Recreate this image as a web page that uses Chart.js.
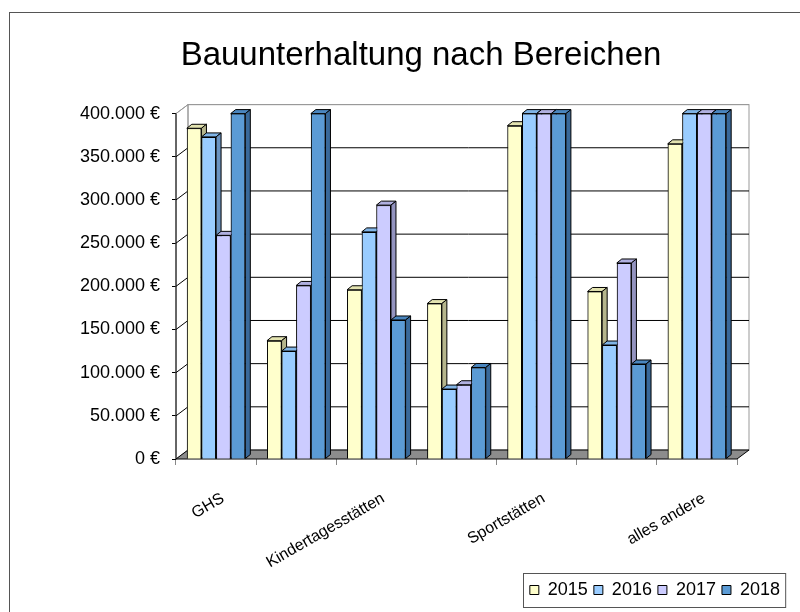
<!DOCTYPE html>
<html>
<head>
<meta charset="utf-8">
<script src="https://cdn.jsdelivr.net/npm/chart.js@4.4.1/dist/chart.umd.min.js"></script>
<style>
  html, body { margin: 0; padding: 0; background: #fff; overflow: hidden; }
  #frame { position: absolute; left: 9px; top: 12px; width: 900px; height: 700px; border-left: 1px solid #555; border-top: 1px solid #555; }
  canvas { position: absolute; left: 0; top: 0; }
</style>
</head>
<body>
<div id="frame"></div>
<canvas id="chart" width="800" height="612"></canvas>
<script>
// only every second category name is printed in the original
const categories = ['GHS', '', 'Kindertagesstätten', '', 'Sportstätten', '', 'alles andere'];
const years = ['2015', '2016', '2017', '2018'];

const values2015 = [383000, 137000, 196000, 180000, 386000, 194000, 365000];
const values2016 = [373000, 125000, 263000, 81000, 400000, 132000, 400000];
const values2017 = [259000, 201000, 294000, 86000, 400000, 227000, 400000];
const values2018 = [400000, 400000, 161000, 106000, 400000, 110000, 400000];

const yMax = 400000;
const yStep = 50000;

const frontColors = ['#FFFFCC', '#99CCFF', '#CCCCFF', '#5B9BD5'];
const topColors = ['#E3E3B0', '#80B4E6', '#B0B0E0', '#4A86BF'];
const sideColors = ['#B5B58C', '#6A93C2', '#9393BF', '#39699A'];

const depth = { wallX: 12, wallY: 9, barX: 5, barY: 4 };
const font = 'Liberation Sans, Arial, sans-serif';

function euro(v) {
    return String(v).replace(/\B(?=(\d{3})+(?!\d))/g, '.') + ' €';
}

// walls, floor and back gridlines of the 3d box
const box3d = {
    id: 'box3d',
    beforeDatasetsDraw(chart) {
        const { ctx, chartArea: a, scales: { y } } = chart;
        const dx = depth.wallX, dy = depth.wallY;
        ctx.save();
        ctx.lineWidth = 1;

        // left wall
        ctx.beginPath();
        ctx.moveTo(a.left, a.top);
        ctx.lineTo(a.left + dx, a.top - dy);
        ctx.lineTo(a.left + dx, a.bottom - dy);
        ctx.lineTo(a.left, a.bottom);
        ctx.closePath();
        ctx.strokeStyle = '#999';
        ctx.stroke();

        // back wall outline
        ctx.strokeRect(a.left + dx, a.top - dy, a.right - a.left, a.bottom - a.top);

        // gridlines on left and back wall
        y.ticks.forEach(t => {
            if (t.value === 0) return;
            const py = y.getPixelForValue(t.value);
            ctx.strokeStyle = t.value === yMax ? '#999' : '#000';
            ctx.beginPath();
            ctx.moveTo(a.left, py);
            ctx.lineTo(a.left + dx, py - dy);
            ctx.lineTo(a.right + dx, py - dy);
            ctx.stroke();
        });

        // floor
        ctx.beginPath();
        ctx.moveTo(a.left, a.bottom);
        ctx.lineTo(a.left + dx, a.bottom - dy);
        ctx.lineTo(a.right + dx, a.bottom - dy);
        ctx.lineTo(a.right, a.bottom);
        ctx.closePath();
        ctx.fillStyle = '#8C8C8C';
        ctx.fill();
        ctx.strokeStyle = '#000';
        ctx.stroke();

        // front y axis line
        ctx.beginPath();
        ctx.moveTo(a.left, a.top);
        ctx.lineTo(a.left, a.bottom);
        ctx.stroke();
        ctx.restore();
    },
    afterDatasetsDraw(chart) {
        const ctx = chart.ctx;
        const bx = depth.barX, by = depth.barY;
        ctx.save();
        ctx.lineWidth = 1;
        ctx.strokeStyle = '#000';
        categories.forEach((c, i) => {
            chart.data.datasets.forEach((ds, d) => {
                const bar = chart.getDatasetMeta(d).data[i];
                const { x, y, base, width } = bar.getProps(['x', 'y', 'base', 'width'], true);
                const l = x - width / 2, r = x + width / 2;
                bar.draw(ctx);
                // top face
                ctx.beginPath();
                ctx.moveTo(l, y);
                ctx.lineTo(l + bx, y - by);
                ctx.lineTo(r + bx, y - by);
                ctx.lineTo(r, y);
                ctx.closePath();
                ctx.fillStyle = topColors[d];
                ctx.fill();
                ctx.stroke();
                // side face
                ctx.beginPath();
                ctx.moveTo(r, y);
                ctx.lineTo(r + bx, y - by);
                ctx.lineTo(r + bx, base - by);
                ctx.lineTo(r, base);
                ctx.closePath();
                ctx.fillStyle = sideColors[d];
                ctx.fill();
                ctx.stroke();
            });
        });
        ctx.restore();
    },
    afterDraw(chart) {
        // frame around the legend
        const boxes = chart.legend.legendHitBoxes;
        if (!boxes.length) return;
        const left = Math.min(...boxes.map(b => b.left));
        const right = Math.max(...boxes.map(b => b.left + b.width));
        const top = Math.min(...boxes.map(b => b.top));
        const bottom = Math.max(...boxes.map(b => b.top + b.height));
        const ctx = chart.ctx;
        ctx.save();
        ctx.strokeStyle = '#555';
        ctx.lineWidth = 1;
        ctx.strokeRect(Math.round(left - 7) + 0.5, Math.round(top - 8) + 0.5, right - left + 12, bottom - top + 16);
        ctx.restore();
    }
};

const valueSets = [values2015, values2016, values2017, values2018];

new Chart(document.getElementById('chart'), {
    type: 'bar',
    data: {
        labels: categories,
        datasets: years.map((yr, d) => ({
            label: yr,
            data: valueSets[d],
            backgroundColor: frontColors[d],
            borderColor: '#000',
            borderWidth: 1,
            categoryPercentage: 0.73,
            barPercentage: 1.0
        }))
    },
    options: {
        responsive: false,
        animation: false,
        events: [],
        layout: { padding: { left: 56, right: 14, top: 0, bottom: 3 } },
        plugins: {
            title: {
                display: true,
                text: 'Bauunterhaltung nach Bereichen',
                color: '#000',
                font: { family: font, size: 33, weight: 'normal' },
                padding: { top: 36, bottom: 38 }
            },
            legend: {
                position: 'bottom',
                align: 'end',
                labels: {
                    color: '#000',
                    font: { family: font, size: 18 },
                    boxWidth: 9,
                    boxHeight: 9,
                    padding: 6
                }
            },
            tooltip: { enabled: false }
        },
        scales: {
            x: {
                grid: { display: true, offset: true, drawOnChartArea: false, tickLength: 6, color: '#888' },
                border: { display: false },
                ticks: {
                    color: '#000',
                    font: { family: font, size: 16 },
                    autoSkip: false,
                    minRotation: 30,
                    maxRotation: 30,
                    padding: 24,
                    labelOffset: 7
                },
                afterFit(scale) { scale.height = 116; }
            },
            y: {
                min: 0,
                max: yMax,
                grid: { display: true, drawOnChartArea: false, tickLength: 4, color: '#000' },
                border: { display: false },
                ticks: {
                    stepSize: yStep,
                    color: '#000',
                    font: { family: font, size: 18 },
                    padding: 12,
                    callback: v => euro(v)
                },
                afterFit(scale) { scale.width = 120; }
            },
            yRight: {
                position: 'right',
                display: true,
                grid: { display: false },
                border: { display: false },
                ticks: { display: false },
                afterFit(scale) { scale.width = 49; }
            }
        }
    },
    plugins: [box3d]
});
</script>
</body>
</html>
